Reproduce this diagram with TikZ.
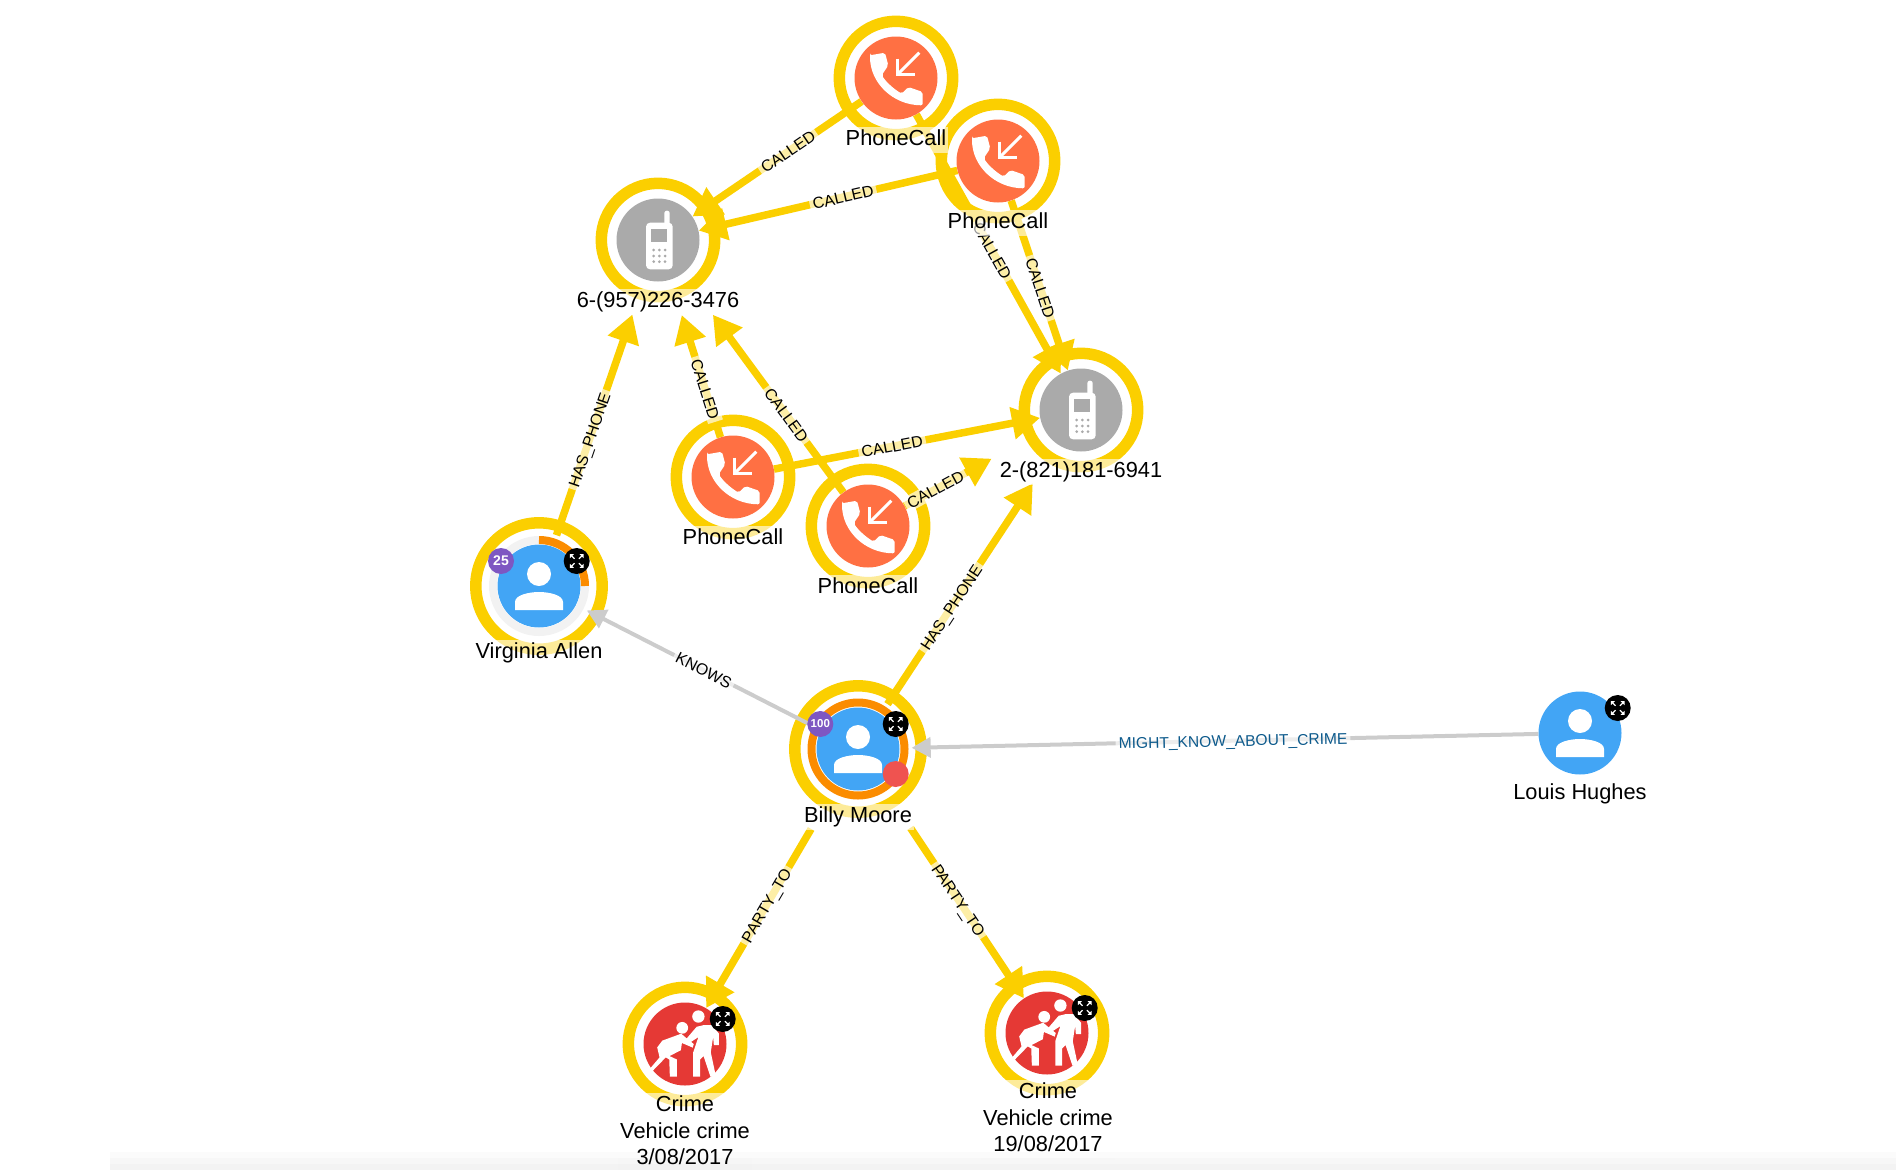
\documentclass[tikz,border=0pt]{standalone}
\usepackage{fontspec}
\setmainfont{Liberation Sans}
\usetikzlibrary{arrows.meta, backgrounds, calc}
\definecolor{cyellow}{HTML}{FBCF00}
\definecolor{corange}{HTML}{FB8C00}
\definecolor{ccall}{HTML}{FF7043}
\definecolor{cphone}{HTML}{AAAAAA}
\definecolor{cperson}{HTML}{42A5F5}
\definecolor{ccrime}{HTML}{E53935}
\definecolor{cpurple}{HTML}{7E57C2}
\definecolor{cred}{HTML}{EF5350}
\definecolor{cedge}{HTML}{CCCCCC}
\definecolor{cblue}{HTML}{0D5A8C}
\pgfdeclarelayer{rings}
\tikzset{
  every picture/.style={x=1pt, y=-1pt},
  disc/.style={circle, fill=#1, minimum size=83pt, inner sep=0pt},
  disc/.default=cperson,
  ring/.style={circle, draw=cyellow, line width=11.5pt, minimum size=#1, inner sep=0pt},
  ring/.default=113.4pt,
  link/.style={draw=cyellow, line width=7.5pt, -{Triangle[length=28pt, width=31pt]}},
  greylink/.style={draw=cedge, line width=4pt, -{Triangle[length=19pt, width=20pt]}},
  edgetext/.style={font=\fontsize{16}{18}\selectfont, text=black, text height=11.5pt, text depth=0pt, fill=white, fill opacity=0.65, text opacity=1, inner xsep=3pt, inner ysep=2pt, sloped},
  nodetext/.style={font=\fontsize{21.8}{26.5}\selectfont, text=black, fill=white, fill opacity=0.6, text opacity=1, inner xsep=2pt, inner ysep=0pt, align=center},
  badge/.style={circle, fill=#1, minimum size=26pt, inner sep=0pt, text=white, font=\fontsize{14}{14}\selectfont\bfseries},
  personicon/.pic={
    \fill[white] (0,-12) circle (12);
    \fill[white] (-24,24) -- (-24,16) .. controls (-24,9) and (-10,6) .. (0,6) .. controls (10,6) and (24,9) .. (24,16) -- (24,24) -- cycle;
  },
  callicon/.pic={
    \fill[white, rounded corners=2pt] (-26,-22.7) -- (-11,-25.3) -- (-7.7,-12.7) -- (-14.3,-2.7) .. controls (-9,5) and (-2,11) .. (5.7,15.7) -- (12.3,9) -- (26.7,14) -- (26.7,27.3) .. controls (-3,27) and (-26,5) .. cycle;
    \draw[white, line width=3pt] (23.3,-25.3) -- (1.3,-3.3);
    \draw[white, line width=3pt] (1.3,-19.3) -- (1.3,-3.3) -- (19,-3.3);
  },
  mobileicon/.pic={
    \fill[white, rounded corners=2.5pt] (6.3,-14) -- (6.3,-29.3) -- (11.7,-29.3) -- (11.7,-14) -- cycle;
    \fill[white, rounded corners=4pt] (-12,-17.3) rectangle (14.7,29.3);
    \fill[cphone] (-6.7,-11.3) rectangle (9,1.7);
    \foreach \dotx in {-4.3,1.3,7} \foreach \doty in {10,16,21.7} \fill[cphone] (\dotx,\doty) circle (1.5);
  },
  crimeicon/.pic={
    \fill[white] (13,-26.7) circle (6);
    \fill[white] (-2.7,-15.7) circle (5.7);
    \fill[white] (18,-18.3) -- (26.3,-18.3) -- (33,-10) -- (33,1) -- (28,1) -- (27.3,-6.7) -- (25,8) -- (29.7,30) -- (24.7,31.7) -- (18,11.7) -- (14.7,15) -- (14.7,31.7) -- (8,31.7) -- (8,8) -- (13,-6.7) -- (5.3,-1.7) -- (0.7,-4.3) -- (11.3,-16.7) -- cycle;
    \fill[white] (-3.7,-10) -- (1,-6) -- (8.5,0) -- (7.5,3.5) -- (-3,-1) -- (-4,6) -- (-15,11.7) -- (-8,15) -- (-8,31.7) -- (-14.7,31.7) -- (-15.3,15) -- (-18.7,13) -- (-32,26.7) -- (-34.3,24.3) -- (-24.7,13) -- (-27,3.3) -- (-22,-3.3) -- cycle;
  },
  expandicon/.pic={
    \fill[black] (0,0) circle (13);
    \foreach \sx/\sy in {1/1,1/-1,-1/1,-1/-1} {
      \fill[white] ({\sx*6.8},{\sy*6.8}) -- ({\sx*2.8},{\sy*6.8}) -- ({\sx*6.8},{\sy*2.8}) -- cycle;
      \draw[white, line width=1.2pt] ({\sx*2.2},{\sy*2.2}) -- ({\sx*5},{\sy*5});
    }
  },
}
\begin{document}
\begin{tikzpicture}
  \pgfsetlayers{rings,background,main}
  \useasboundingbox (0,0) rectangle (1896,1170);

  \node[disc=ccall] (callA) at (896,78) {};
  \node[disc=ccall] (callB) at (998,161) {};
  \node[disc=ccall] (callC) at (733,477) {};
  \node[disc=ccall] (callD) at (868,526) {};
  \node[disc=cphone] (phoneA) at (658,240) {};
  \node[disc=cphone] (phoneB) at (1081,410) {};
  \node[disc] (virginia) at (539,586) {};
  \node[disc] (billy) at (858,749) {};
  \node[disc] (louis) at (1580,733) {};
  \node[disc=ccrime] (crimeA) at (685,1044) {};
  \node[disc=ccrime] (crimeB) at (1047,1033) {};

  \begin{pgfonlayer}{rings}
    \foreach \n in {callA,callB,callC,callD,phoneA,phoneB,crimeA,crimeB} \node[ring] at (\n) {};
    \foreach \n in {virginia,billy} \node[ring=126.4pt] at (\n) {};
  \end{pgfonlayer}

  \begin{scope}[on background layer]
    \draw[link] (callA) -- node[edgetext, pos=.435] {CALLED} (phoneA);
    \draw[link] (callB) -- node[edgetext, pos=.442] {CALLED} (phoneA);
    \draw[link] (callA) -- node[edgetext, pos=.526] {CALLED} (phoneB);
    \draw[link] (callB) -- node[edgetext, pos=.515] {CALLED} (phoneB);
    \draw[link, shorten >=37pt] (callC) -- node[edgetext, pos=.305] {CALLED} (phoneA);
    \draw[link, shorten >=51pt] (callD) -- node[edgetext, pos=.354] {CALLED} (phoneA);
    \draw[link] (callC) -- node[edgetext, pos=.444] {CALLED} (phoneB);
    \draw[link, shorten >=60pt] (callD) -- node[edgetext, pos=.22] {CALLED} (phoneB);
    \draw[link, shorten <=12pt, shorten >=37pt] (virginia) -- node[edgetext, pos=.40] {HAS\_PHONE} (phoneA);
    \draw[link, shorten <=12pt, shorten >=46pt] (billy) -- node[edgetext, pos=.396] {HAS\_PHONE} (phoneB);
    \draw[link, shorten <=51pt] (billy) -- node[edgetext, pos=.54] {PARTY\_TO} (crimeA);
    \draw[link, shorten <=53pt] (billy) -- node[edgetext, pos=.543] {PARTY\_TO} (crimeB);
    \draw[greylink, shorten >=12pt] (billy) -- node[edgetext, pos=.478] {KNOWS} (virginia);
    \draw[greylink, shorten >=12pt] (louis) -- node[edgetext, pos=.478, text=cblue, font=\fontsize{15.6}{18}\selectfont] {MIGHT\_KNOW\_ABOUT\_CRIME} (billy);
  \end{scope}

  \draw[black!5, line width=8pt] (virginia.center) circle (46);
  \draw[corange, line width=8pt] ($(virginia.center)+(0,-46)$) arc[start angle=-90, end angle=0, radius=46];
  \draw[corange, line width=8pt] (billy.center) circle (46.5);

  \foreach \n in {callA,callB,callC,callD} \pic at (\n) {callicon};
  \foreach \n in {phoneA,phoneB} \pic at (\n) {mobileicon};
  \foreach \n in {virginia,billy,louis} \pic at (\n) {personicon};
  \foreach \n in {crimeA,crimeB} \pic[scale=1.03] at (\n) {crimeicon};

  \foreach \n in {virginia,billy,louis,crimeA,crimeB} \pic at ([shift={(37.7,-25)}]\n.center) {expandicon};
  \node[badge=cpurple] (countA) at ([shift={(-38,-25)}]virginia.center) {25};
  \node[badge=cpurple, font=\fontsize{11.5}{12}\selectfont\bfseries] (countB) at ([shift={(-37.7,-25)}]billy.center) {100};
  \node[badge=cred] (alertB) at ([shift={(37.7,25)}]billy.center) {};

  \node[nodetext] (callAtext) at (896,140) {\strut PhoneCall};
  \node[nodetext] (callBtext) at (998,223) {\strut PhoneCall};
  \node[nodetext] (callCtext) at (733,539) {\strut PhoneCall};
  \node[nodetext] (callDtext) at (868,588) {\strut PhoneCall};
  \node[nodetext] (phoneAtext) at (658,302) {\strut 6-(957)226-3476};
  \node[nodetext] (phoneBtext) at (1081,472) {\strut 2-(821)181-6941};
  \node[nodetext] (virginiatext) at (539,653) {\strut Virginia Allen};
  \node[nodetext] (billytext) at (858,817) {\strut Billy Moore};
  \node[nodetext] (louistext) at (1580,794) {\strut Louis Hughes};
  \node[nodetext] (crimeAtext) at (685,1133) {\strut Crime\\\strut Vehicle crime\\\strut 3/08/2017};
  \node[nodetext] (crimeBtext) at (1048,1120) {\strut Crime\\\strut Vehicle crime\\\strut 19/08/2017};

  \foreach \y in {1152,1158,1164} \fill[black, opacity=0.015] (110,\y) rectangle (1896,1170);
\end{tikzpicture}
\end{document}
